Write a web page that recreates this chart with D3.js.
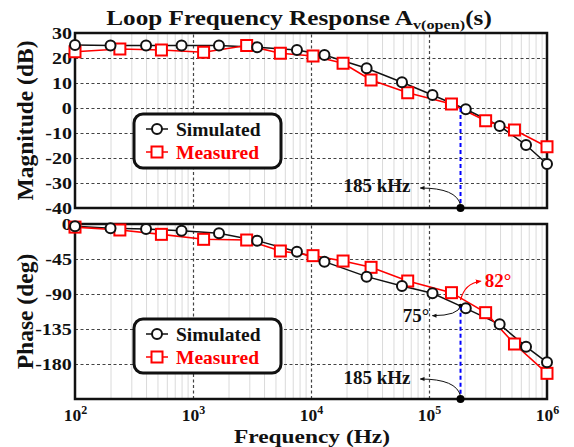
<!DOCTYPE html>
<html><head><meta charset="utf-8">
<script src="https://cdn.jsdelivr.net/npm/d3@7"></script>
<style>
body{margin:0;background:#fff;}
text{font-family:"Liberation Serif","Times New Roman",serif;font-weight:bold;}
</style></head>
<body><svg id="c" width="574" height="447"></svg>
<script>
// ---- data ----
const freqSim  = [100,200,400,800,1660,3500,7600,13000,29600,59000,107000,205000,397000,664000,1000000];
const magSim   = [25.2,25,25,25,25,24.3,23.2,21.2,15.9,10.3,5.2,-0.5,-7.2,-14.8,-22.4];
const phaseSim = [-3,-5.6,-6.4,-8.6,-12,-21.4,-35.6,-48.4,-67.7,-79.7,-89.1,-108.4,-129,-157.7,-177.8];
const freqMeas  = [100,240,540,1230,2850,5500,10400,18700,32300,66000,155000,302000,530000,1000000];
const magMeas   = [22.5,23.6,23.2,22.3,25,21.9,20.8,17.9,11.2,6.1,1.6,-5.1,-8.8,-15.5];
const phaseMeas = [-4,-7.7,-13.3,-19.7,-20.6,-34.7,-40.7,-47.6,-55.7,-73.3,-88.3,-114,-154.3,-192];
const magTicks = [30,20,10,0,-10,-20,-30,-40];
const phaseTicks = [0,-45,-90,-135,-180];
const decades = [1e2,1e3,1e4,1e5,1e6];
const fCross = 185000, magCross = 0, pmSim = 75, pmMeas = 82;
const seriesNames = ["Simulated","Measured"];

const svg = d3.select("#c");
const L=75, R=547;
const x = d3.scaleLog().domain([1e2,1e6]).range([L,R]);
const yMag = d3.scaleLinear().domain([-40,30]).range([208,33]);
const yPh = d3.scaleLinear().domain([-225,0]).range([399,224]);
const minor = [];
for (let d=1e2; d<1e6; d*=10) for (let k=2;k<=9;k++) minor.push(d*k);

function panel(y, ticks, simY, measY, label, legY){
  const top = y.range()[1], bot = y.range()[0];
  const g = svg.append("g");
  g.append("g").attr("transform",`translate(0,${bot})`)
    .call(d3.axisBottom(x).tickValues(minor).tickSize(-(bot-top)).tickFormat(""))
    .call(a=>{a.select(".domain").remove();a.selectAll("line").attr("stroke","#dadada").attr("stroke-width",1);});
  g.append("g").attr("transform",`translate(0,${bot})`)
    .call(d3.axisBottom(x).tickValues(decades.slice(1,4)).tickSize(-(bot-top)).tickFormat(""))
    .call(a=>{a.select(".domain").remove();a.selectAll("line").attr("stroke","#444").attr("stroke-width",1.2).attr("stroke-dasharray","3,2.5");});
  g.append("g").attr("transform",`translate(${L},0)`)
    .call(d3.axisLeft(y).tickValues(ticks).tickSize(-(R-L)).tickPadding(2.5).tickFormat(d=>String(d)))
    .call(a=>{a.select(".domain").remove();
      a.selectAll("line").attr("stroke","#444").attr("stroke-width",1.2).attr("stroke-dasharray","3,2.5");
      a.selectAll("text").attr("font-size",16).attr("fill","#111").attr("transform","scale(1.25,1)")
        .style("font-family",'"Liberation Serif",serif').style("font-weight","bold");});
  g.append("rect").attr("x",L).attr("y",top).attr("width",R-L).attr("height",bot-top)
    .attr("fill","none").attr("stroke","#111").attr("stroke-width",2.5);
  const ln = (fs,vs)=>d3.line().x((d,i)=>x(fs[i])).y(d=>y(d))(vs);
  g.append("path").attr("d",ln(freqSim,simY)).attr("fill","none").attr("stroke","#111").attr("stroke-width",1.5);
  g.append("path").attr("d",ln(freqMeas,measY)).attr("fill","none").attr("stroke","#f00").attr("stroke-width",1.6);
  g.selectAll(".sq").data(measY).enter().append("rect")
    .attr("x",(d,i)=>x(freqMeas[i])-5.5).attr("y",d=>y(d)-5.5).attr("width",11).attr("height",11)
    .attr("fill","#fff").attr("stroke","#f00").attr("stroke-width",2);
  g.selectAll(".ci").data(simY).enter().append("circle")
    .attr("cx",(d,i)=>x(freqSim[i])).attr("cy",d=>y(d)).attr("r",5)
    .attr("fill","#fff").attr("stroke","#111").attr("stroke-width",2);
  svg.append("text").attr("transform",`translate(25,${(top+bot)/2}) rotate(-90)`)
    .attr("text-anchor","middle").attr("dy","0.33em").attr("font-size",23.5).attr("fill","#111").text(label);
  const lg = svg.append("g").attr("transform",`translate(134,${legY})`);
  lg.append("rect").attr("width",147).attr("height",54).attr("rx",9)
    .attr("fill","#fff").attr("stroke","#111").attr("stroke-width",3);
  [[15,"#111",seriesNames[0],"c"],[38,"#f00",seriesNames[1],"s"]].forEach(([yy,col,name,m])=>{
    lg.append("line").attr("x1",12).attr("x2",34).attr("y1",yy).attr("y2",yy).attr("stroke",col).attr("stroke-width",1.5);
    if(m==="c") lg.append("circle").attr("cx",23).attr("cy",yy).attr("r",5).attr("fill","#fff").attr("stroke",col).attr("stroke-width",2);
    else lg.append("rect").attr("x",17.5).attr("y",yy-5.5).attr("width",11).attr("height",11).attr("fill","#fff").attr("stroke",col).attr("stroke-width",2);
    lg.append("text").attr("x",42).attr("y",yy+6.5).attr("font-size",19.5).attr("fill",col).text(name);
  });
  return g;
}

svg.append("defs").selectAll("marker").data([["ak","#111"],["ar","#f00"]]).enter().append("marker")
  .attr("id",d=>d[0]).attr("viewBox","0 0 10 10").attr("refX",8).attr("refY",5)
  .attr("markerWidth",5).attr("markerHeight",5).attr("orient","auto")
  .append("path").attr("d","M0,1L10,5L0,9z").attr("fill",d=>d[1]);

panel(yMag, magTicks, magSim, magMeas, "Magnitude (dB)", 114);
panel(yPh, phaseTicks, phaseSim, phaseMeas, "Phase (deg)", 319);

const xc = x(fCross);
svg.append("line").attr("x1",xc).attr("x2",xc).attr("y1",yMag(magCross)).attr("y2",yMag(-40))
  .attr("stroke","#00f").attr("stroke-width",2).attr("stroke-dasharray","4,3");
svg.append("path").attr("d",`M${xc},${yMag(-40)-3} Q${xc-4},${yMag(-40)-20} ${xc-40},${yMag(-40)-20}`)
  .attr("fill","none").attr("stroke","#111").attr("stroke-width",1).attr("marker-end","url(#ak)");
svg.append("circle").attr("cx",xc).attr("cy",yMag(-40)).attr("r",4).attr("fill","#000");
svg.append("text").attr("x",377).attr("y",yMag(-40)-16).attr("text-anchor","middle").attr("font-size",19).attr("fill","#111").text("185 kHz");
const yS = yPh(pmSim-180), yM = yPh(pmMeas-180);
svg.append("line").attr("x1",xc).attr("x2",xc).attr("y1",yS).attr("y2",yPh(-225))
  .attr("stroke","#00f").attr("stroke-width",2).attr("stroke-dasharray","4,3");
svg.append("path").attr("d",`M${xc},${yPh(-225)-3} Q${xc-4},${yPh(-225)-20} ${xc-40},${yPh(-225)-20}`)
  .attr("fill","none").attr("stroke","#111").attr("stroke-width",1).attr("marker-end","url(#ak)");
svg.append("circle").attr("cx",xc).attr("cy",yPh(-225)).attr("r",4).attr("fill","#000");
svg.append("circle").attr("cx",xc).attr("cy",yS).attr("r",2).attr("fill","#000");
svg.append("text").attr("x",377).attr("y",yPh(-225)-15).attr("text-anchor","middle").attr("font-size",19).attr("fill","#111").text("185 kHz");
svg.append("path").attr("d",`M${xc},${yS} Q${xc-2},${yS+10} ${xc-28},${yS+10}`)
  .attr("fill","none").attr("stroke","#111").attr("stroke-width",1).attr("marker-end","url(#ak)");
svg.append("text").attr("x",416).attr("y",yS+16).attr("text-anchor","middle").attr("font-size",19).attr("fill","#111").text("75°");
svg.append("path").attr("d",`M${xc},${yM} Q${xc+4},${yM-17} ${xc+20},${yM-19}`)
  .attr("fill","none").attr("stroke","#f00").attr("stroke-width",1.2).attr("marker-end","url(#ar)");
svg.append("text").attr("x",498).attr("y",yM-13).attr("text-anchor","middle").attr("font-size",19).attr("fill","#f00").text("82°");

const xa = svg.append("g").attr("transform",`translate(0,399)`)
  .call(d3.axisBottom(x).tickValues(decades).tickSize(0).tickFormat(""));
xa.select(".domain").remove();
xa.selectAll(".tick").append("text").attr("y",22).attr("text-anchor","middle").attr("font-size",17.5).attr("fill","#111")
  .each(function(d){const t=d3.select(this);t.append("tspan").text("10");
    t.append("tspan").attr("font-size",12).attr("dy",-7).text(Math.round(Math.log10(d)));});
svg.append("text").attr("transform","translate(312,443) scale(1.2,1)").attr("text-anchor","middle")
  .attr("font-size",19.5).attr("fill","#111").text("Frequency (Hz)");

const tt = svg.append("text").attr("transform","translate(299,25) scale(1.2,1)").attr("text-anchor","middle")
  .attr("font-size",21).attr("fill","#111");
tt.append("tspan").text("Loop Frequency Response A");
tt.append("tspan").attr("font-size",13.5).attr("dy",4).text("v(open)");
tt.append("tspan").attr("dy",-4).text("(s)");
</script></body></html>
